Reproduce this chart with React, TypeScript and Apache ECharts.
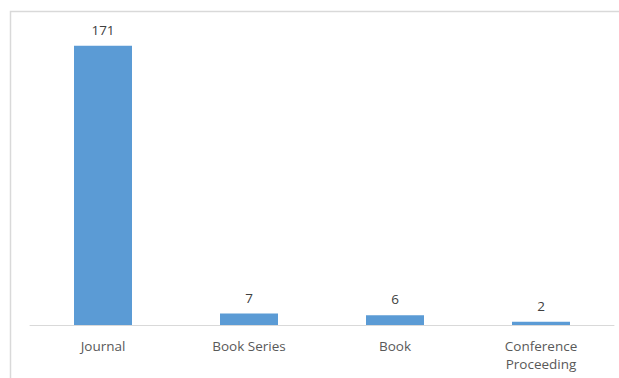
import React, { useEffect, useRef } from "react";
import * as echarts from "echarts";

const categories = ["Journal", "Book Series", "Book", "Conference\nProceeding"];
const counts = [171, 7, 6, 2];

export default function App() {
  const ref = useRef<HTMLDivElement>(null);

  useEffect(() => {
    if (!ref.current) return;
    const chart = echarts.init(ref.current, null, { renderer: "svg" });
    chart.setOption({
      animation: false,
      backgroundColor: "#ffffff",
      graphic: [
        {
          type: "rect",
          shape: { x: 10.5, y: 11.5, width: 700, height: 500 },
          style: { fill: "none", stroke: "#d9d9d9", lineWidth: 1.5 },
          silent: true,
        },
      ],
      grid: { left: 30, right: 5, top: 31, bottom: 53 },
      xAxis: {
        type: "category",
        data: categories,
        axisLine: { show: true, lineStyle: { color: "#d9d9d9", width: 1 } },
        axisTick: { show: false },
        axisLabel: {
          color: "#595959",
          fontFamily: "Open Sans",
          fontSize: 13.5,
          margin: 12,
          lineHeight: 18,
        },
      },
      yAxis: {
        type: "value",
        min: 0,
        max: 180,
        show: false,
        splitLine: { show: false },
      },
      series: [
        {
          type: "bar",
          data: counts,
          barWidth: 58,
          itemStyle: { color: "#5b9bd5" },
          label: {
            show: true,
            position: "top",
            distance: 9,
            color: "#404040",
            fontFamily: "Open Sans",
            fontSize: 13.5,
          },
        },
      ],
    });
    return () => chart.dispose();
  }, []);

  return (
    <div
      ref={ref}
      style={{ position: "fixed", left: 0, top: 0, width: 619, height: 378 }}
    />
  );
}
